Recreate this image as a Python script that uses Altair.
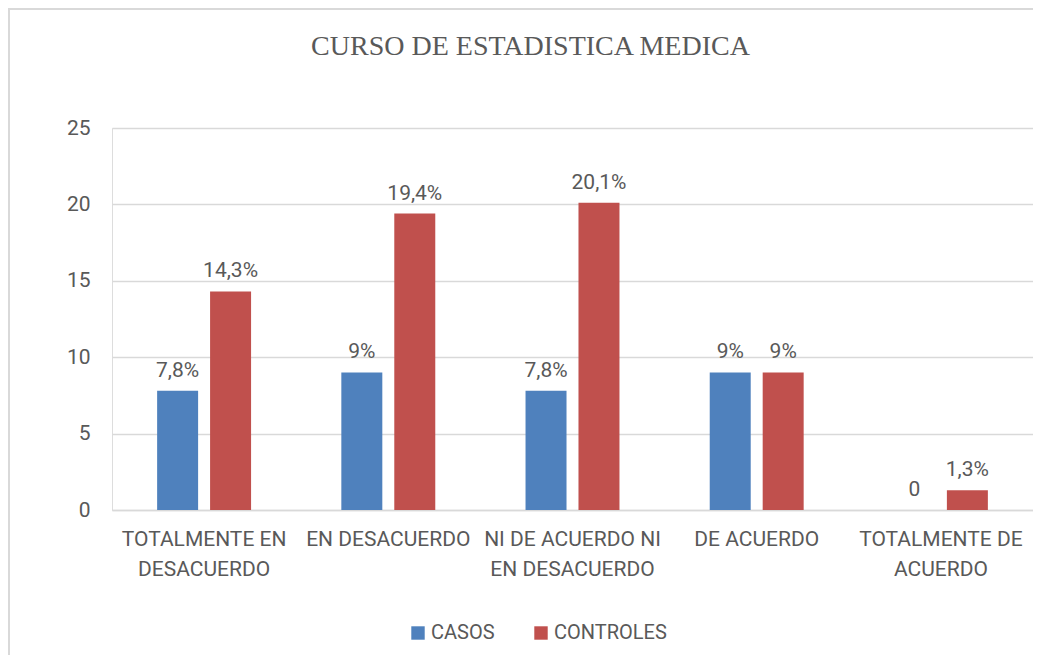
import altair as alt
import pandas as pd

categories = ["TOTALMENTE EN DESACUERDO", "EN DESACUERDO", "NI DE ACUERDO NI EN DESACUERDO", "DE ACUERDO", "TOTALMENTE DE ACUERDO"]
category_lines = [["TOTALMENTE EN", "DESACUERDO"], ["EN DESACUERDO"], ["NI DE ACUERDO NI", "EN DESACUERDO"], ["DE ACUERDO"], ["TOTALMENTE DE", "ACUERDO"]]
series = ["CASOS", "CONTROLES"]
casos = [7.8, 9, 7.8, 9, 0]
controles = [14.3, 19.4, 20.1, 9, 1.3]
casos_labels = ["7,8%", "9%", "7,8%", "9%", "0"]
controles_labels = ["14,3%", "19,4%", "20,1%", "9%", "1,3%"]
y_ticks = [0, 5, 10, 15, 20, 25]
colors = ["#4F81BD", "#C0504D"]

rows = []
for i, c in enumerate(categories):
    rows.append({"cat": c, "serie": series[0], "val": casos[i], "lab": casos_labels[i]})
    rows.append({"cat": c, "serie": series[1], "val": controles[i], "lab": controles_labels[i]})
df = pd.DataFrame(rows)

expr = ""
for c, lines in zip(categories, category_lines):
    arr = "[" + ",".join("'" + l + "'" for l in lines) + "]"
    expr += f"datum.value == '{c}' ? {arr} : "
expr += "datum.value"

FONT = "Roboto"
GRAY = "#595959"
FS = 21

x = alt.X("cat:N", sort=categories, title=None,
          scale=alt.Scale(paddingInner=0.49, paddingOuter=0.245),
          axis=alt.Axis(labelExpr=expr, labelAngle=0, labelFont=FONT, labelFontSize=FS,
                        labelColor=GRAY, labelPadding=18, labelLineHeight=30,
                        labelBaseline="top", ticks=False, domainColor="#d9d9d9",
                        domainWidth=1.5, grid=False, labelLimit=300))
xo = alt.XOffset("serie:N", sort=series, scale=alt.Scale(paddingInner=0.226, paddingOuter=0))
y = alt.Y("val:Q", title=None,
          scale=alt.Scale(domain=[0, 25]),
          axis=alt.Axis(values=y_ticks, labelFont=FONT, labelFontSize=FS, labelColor=GRAY,
                        labelPadding=22, ticks=False, domain=False, gridColor="#d9d9d9",
                        gridWidth=1.5))
color = alt.Color("serie:N", sort=series, title=None,
                  scale=alt.Scale(domain=series, range=colors),
                  legend=alt.Legend(orient="none", legendX=296, legendY=495, direction="horizontal",
                                    symbolType="square", symbolSize=180, symbolStrokeWidth=0,
                                    labelFont=FONT, labelFontSize=20, labelColor=GRAY,
                                    columnPadding=36, labelOffset=3, symbolOpacity=1))

base = alt.Chart(df)
bars = base.mark_bar(opacity=1).encode(x=x, xOffset=xo, y=y, color=color)
texts = base.mark_text(font=FONT, fontSize=FS, color=GRAY, baseline="bottom", dy=-10).encode(
    x=x, xOffset=xo, y=y, text="lab:N")
border = alt.Chart(pd.DataFrame({"a": [0]})).mark_rect(
    fill=None, stroke="#d9d9d9", strokeWidth=2).encode(
    x=alt.value(-103), x2=alt.value(1000), y=alt.value(-119), y2=alt.value(700))

chart = alt.layer(border, bars, texts).properties(
    width=921, height=382,
    title=alt.TitleParams("CURSO DE ESTADISTICA MEDICA", font="Liberation Serif", fontSize=28,
                          fontWeight="normal", color=GRAY, anchor="middle", offset=-53, dx=-42),
    autosize=alt.AutoSizeParams(type="none"),
    padding={"left": 104, "top": 120, "right": 0, "bottom": 145},
).configure_view(stroke=None).configure(background="white")

chart.save("out.html", embed_options={"renderer": "svg", "actions": False})
